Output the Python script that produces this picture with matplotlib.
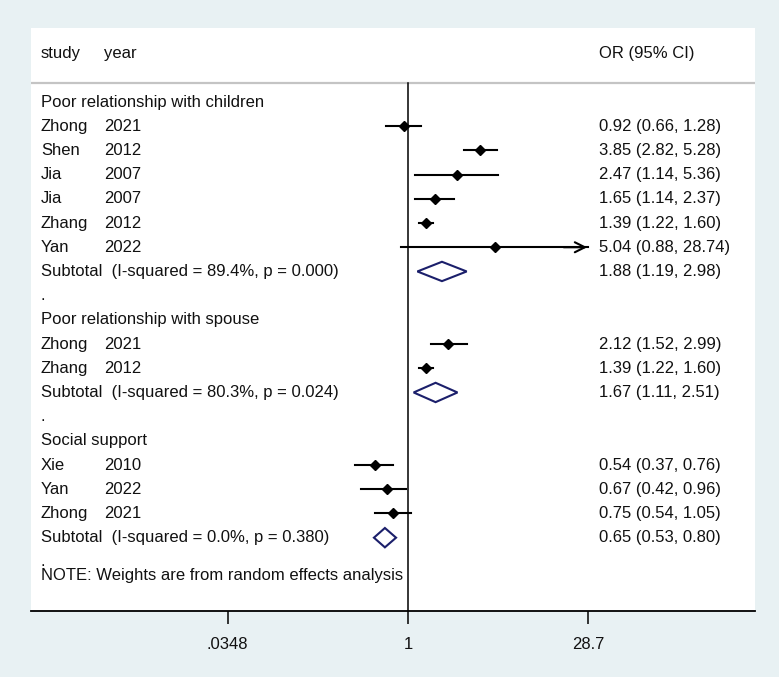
import numpy as np
import matplotlib.pyplot as plt
from matplotlib.patches import Polygon

plt.rcParams['font.family'] = ['Liberation Sans', 'DejaVu Sans']

groups = ['Poor relationship with children', 'Poor relationship with spouse', 'Social support']
studies = [['Zhong', 'Shen', 'Jia', 'Jia', 'Zhang', 'Yan'],
           ['Zhong', 'Zhang'],
           ['Xie', 'Yan', 'Zhong']]
years = [['2021', '2012', '2007', '2007', '2012', '2022'],
         ['2021', '2012'],
         ['2010', '2022', '2021']]
ors = [[0.92, 3.85, 2.47, 1.65, 1.39, 5.04], [2.12, 1.39], [0.54, 0.67, 0.75]]
lows = [[0.66, 2.82, 1.14, 1.14, 1.22, 0.88], [1.52, 1.22], [0.37, 0.42, 0.54]]
highs = [[1.28, 5.28, 5.36, 2.37, 1.60, 28.74], [2.99, 1.60], [0.76, 0.96, 1.05]]
sub_or = [1.88, 1.67, 0.65]
sub_lo = [1.19, 1.11, 0.53]
sub_hi = [2.98, 2.51, 0.80]
sub_i2 = [89.4, 80.3, 0.0]
sub_p = [0.000, 0.024, 0.380]
ticks = [0.0348, 1, 28.7]
tick_labels = ['.0348', '1', '28.7']

bg = '#e8f1f3'
navy = '#1b1f6b'
txt = '#111111'

fig = plt.figure(figsize=(7.79, 6.77), dpi=100, facecolor=bg)
ax = fig.add_axes([31 / 779, 66 / 677, 724 / 779, 583 / 677])
ax.set_facecolor('white')
ax.set_xscale('log')
ax.set_xlim(np.exp(-7.02), np.exp(6.46))
ax.set_ylim(21.03, -3.06)

tr = ax.get_yaxis_transform()
x_name, x_year, x_or = 0.0138, 0.1008, 0.7845
fs = 12

ax.text(x_name, -2, 'study', transform=tr, va='center', fontsize=fs, color=txt)
ax.text(x_year, -2, 'year', transform=tr, va='center', fontsize=fs, color=txt)
ax.text(x_or, -2, 'OR (95% CI)', transform=tr, va='center', fontsize=fs, color=txt)
ax.axhline(-0.79, color='#c4c4c4', lw=1.6)

xmax = ax.get_xlim()[1]
row = 0
for g in range(len(groups)):
    if g > 0:
        ax.text(x_name, row, '.', transform=tr, va='center', fontsize=fs, color=txt)
        row += 1
    ax.text(x_name, row, groups[g], transform=tr, va='center', fontsize=fs, color=txt)
    row += 1
    for s in range(len(studies[g])):
        o, lo, hi = ors[g][s], lows[g][s], highs[g][s]
        ax.text(x_name, row, studies[g][s], transform=tr, va='center', fontsize=fs, color=txt)
        ax.text(x_year, row, years[g][s], transform=tr, va='center', fontsize=fs, color=txt)
        ax.text(x_or, row, f'{o:.2f} ({lo:.2f}, {hi:.2f})', transform=tr, va='center',
                fontsize=fs, color=txt)
        if hi > ticks[-1]:
            ax.plot([lo, ticks[-1]], [row, row], color='black', lw=1.5, zorder=3)
            ax.annotate('', xy=(ticks[-1] * 1.03, row), xytext=(ticks[-1] * 0.6, row),
                        arrowprops=dict(arrowstyle='->', color='black', lw=1.5,
                                        mutation_scale=18), zorder=3)
        else:
            ax.plot([lo, hi], [row, row], color='black', lw=1.5, zorder=3)
        ax.plot(o, row, marker='D', color='black', ms=5.5, zorder=4)
        row += 1
    label = f'Subtotal  (I-squared = {sub_i2[g]:.1f}%, p = {sub_p[g]:.3f})'
    ax.text(x_name, row, label, transform=tr, va='center', fontsize=fs, color=txt)
    ax.text(x_or, row, f'{sub_or[g]:.2f} ({sub_lo[g]:.2f}, {sub_hi[g]:.2f})', transform=tr,
            va='center', fontsize=fs, color=txt)
    dia = Polygon([[sub_lo[g], row], [sub_or[g], row - 0.4], [sub_hi[g], row],
                   [sub_or[g], row + 0.4]], closed=True, facecolor='white',
                  edgecolor=navy, lw=1.5, zorder=4)
    ax.add_patch(dia)
    row += 1

ax.text(x_name, row, '.', transform=tr, va='center', fontsize=fs, color=txt)
ax.text(x_name, row + 0.55, 'NOTE: Weights are from random effects analysis', transform=tr,
        va='center', fontsize=fs, color=txt)

ax.plot([1, 1], [-0.79, 21.03], color='black', lw=1.1, zorder=2)

for sp in ['top', 'right', 'left']:
    ax.spines[sp].set_visible(False)
ax.spines['bottom'].set_linewidth(1.3)
ax.set_yticks([])
ax.set_xticks(ticks)
ax.set_xticklabels(tick_labels, fontsize=fs, color=txt)
ax.minorticks_off()
ax.tick_params(axis='x', length=9, width=1.1, pad=10)

fig.savefig('out.png', dpi=100, facecolor=bg)
